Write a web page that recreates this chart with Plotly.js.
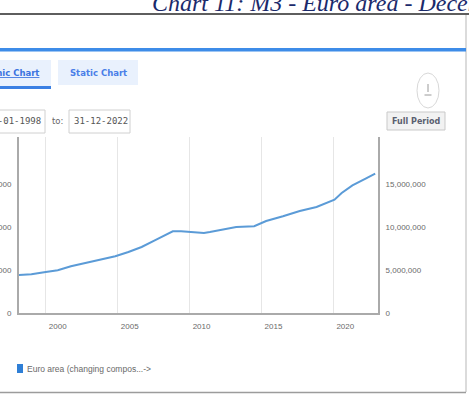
<!DOCTYPE html>
<html><head><meta charset="utf-8">
<script src="https://cdn.plot.ly/plotly-3.0.1.min.js"></script>
<style>html,body{margin:0;padding:0;background:#fff;overflow:hidden}#chart{width:469px;height:394px}</style>
</head><body><div id="chart"></div>
<script>
// ---- data ----
const dates = ['1998-02-01','1999-01-01','2000-01-01','2000-11-01','2001-10-01','2002-10-01','2003-12-01',
  '2004-11-01','2005-10-01','2006-09-01','2007-08-01','2008-04-01','2008-11-01','2009-06-01','2010-05-01',
  '2011-01-01','2011-06-01','2012-05-01','2013-04-01','2014-07-01','2015-05-01','2016-07-01','2017-09-01',
  '2018-11-01','2019-07-01','2020-02-01','2020-08-01','2021-05-01','2022-04-01','2022-12-01'];
const m3Values = [4400000,4490000,4760000,4960000,5420000,5800000,6230000,
  6580000,7080000,7660000,8440000,9020000,9480000,9480000,9330000,
  9290000,9400000,9680000,9980000,10070000,10680000,11230000,11840000,
  12310000,12770000,13160000,13930000,14820000,15600000,16180000];
const yTickVals = [0, 5000000, 10000000, 15000000];
const xTickVals = ['2000-01-01','2005-01-01','2010-01-01','2015-01-01','2020-01-01'];
const xTickText = ['2000','2005','2010','2015','2020'];
const seriesName = 'Euro area (changing compos...->';
const titleText = 'Chart 11: M3 - Euro area - December 2022';
const tabLabels = ['Dynamic Chart', 'Static Chart'];
const dateFrom = '01-01-1998';
const dateTo = '31-12-2022';
const fullPeriodLabel = 'Full Period';

// ---- geometry helpers (page pixels -> paper coords) ----
const W = 469, H = 394, L = 19, R = 91, T = 137, B = 81;
const PW = W - L - R, PH = H - T - B;
const px = x => (x - L) / PW;
const py = y => (H - B - y) / PH;

function rect(x0, y0, x1, y1, fill, line, lw) {
  return {type:'rect', xref:'paper', yref:'paper', x0:px(x0), x1:px(x1), y0:py(y1), y1:py(y0),
    fillcolor: fill, line:{color: line || 'rgba(0,0,0,0)', width: lw || 0}, layer:'above'};
}
function seg(x0, y0, x1, y1, color, w) {
  return {type:'line', xref:'paper', yref:'paper', x0:px(x0), x1:px(x1), y0:py(y0), y1:py(y1),
    line:{color: color, width: w}, layer:'above'};
}
function label(text, x, y, anchor, size, color, family) {
  return {text: text, xref:'paper', yref:'paper', x: px(x), y: py(y), xanchor: anchor, yanchor:'middle',
    showarrow:false, font:{size: size, color: color, family: family || 'DejaVu Sans, sans-serif'}};
}

const shapes = [
  seg(0, 14, 469, 14, '#5e5e5e', 2),
  seg(466, 15, 466, 392, '#cfcfcf', 1.5),
  seg(0, 392.5, 466, 392.5, '#9c9c9c', 1.5),
  rect(0, 48, 466, 51.5, '#3d8ce8'),
  rect(-2, 60, 51, 87, '#e9f1fd'),
  rect(0, 86, 51, 89, '#3a7fe3'),
  rect(58, 60, 138, 85, '#e9f1fd'),
  rect(-5, 110, 45, 133, '#ffffff', '#d0d0d0', 1),
  rect(69, 110, 130, 133, '#ffffff', '#d0d0d0', 1),
  {type:'circle', xref:'paper', yref:'paper', x0:px(417), x1:px(439), y0:py(108), y1:py(73),
    fillcolor:'#ffffff', line:{color:'#d8d8d8', width:1}, layer:'above'},
  seg(428, 84, 428, 92, '#9a9a9a', 1),
  seg(424.5, 95, 431.5, 95, '#9a9a9a', 1),
  rect(387, 112, 445, 130, '#f2f2f2', '#c9c9c9', 1),
  rect(17, 364, 23, 373, '#2f7fd6')
];

const annotations = [
  label('<i>' + titleText + '</i>', 150, 2.5, 'left', 24, '#1b2a6b', 'Liberation Serif, serif'),
  label('<b><span style="text-decoration:underline">' + tabLabels[0] + '</span></b>', 41, 73, 'right', 8.5, '#3b74e0'),
  label('<b>' + tabLabels[1] + '</b>', 98, 73, 'center', 8.5, '#4a7ee8'),
  label(dateFrom, 43, 121.5, 'right', 9, '#555555', 'DejaVu Sans Mono, monospace'),
  label('to:', 50, 121.5, 'left', 8.5, '#666666'),
  label(dateTo, 72, 121.5, 'left', 9, '#555555', 'DejaVu Sans Mono, monospace'),
  label('<b>' + fullPeriodLabel + '</b>', 416, 121, 'center', 8, '#5a5f70'),
  label(seriesName, 25, 368.5, 'left', 8.5, '#6a6a6a', 'Liberation Sans, sans-serif')
];

const tickFont = {family:'Liberation Sans, sans-serif', size:8, color:'#6a6a6a'};

const trace = {
  x: dates, y: m3Values, type:'scatter', mode:'lines', name: seriesName,
  line:{color:'#5b9bd7', width:2}, hoverinfo:'skip'
};
// same series bound to the right-hand axis (invisible) so that axis is drawn
const traceRight = {
  x: dates, y: m3Values, type:'scatter', mode:'lines', yaxis:'y2', showlegend:false,
  line:{color:'rgba(0,0,0,0)', width:0}, hoverinfo:'skip'
};

const layout = {
  width: W, height: H, margin:{l:L, r:R, t:T, b:B, pad:0},
  paper_bgcolor:'#ffffff', plot_bgcolor:'#ffffff', showlegend:false,
  xaxis:{type:'date', range:['1998-02-20','2023-02-10'], tickmode:'array', tickvals:xTickVals, ticktext:xTickText,
    showgrid:true, gridcolor:'#e6e6e6', gridwidth:1, showline:true, linecolor:'#aaaaaa', linewidth:2,
    ticks:'', ticklabelshift:12, ticklabelstandoff:4, tickfont:tickFont, zeroline:false, automargin:false},
  yaxis:{range:[0, 20430000], tickmode:'array', tickvals:yTickVals, tickformat:',', showgrid:false,
    showline:true, linecolor:'#aaaaaa', linewidth:2, ticks:'', ticklabelstandoff:4, tickfont:tickFont,
    zeroline:false, automargin:false},
  yaxis2:{range:[0, 20430000], overlaying:'y', side:'right', anchor:'x', tickmode:'array', tickvals:yTickVals,
    tickformat:',', showgrid:false, showline:true, linecolor:'#aaaaaa', linewidth:2, ticks:'',
    ticklabelstandoff:4, tickfont:tickFont, zeroline:false, automargin:false},
  shapes: shapes, annotations: annotations
};

Plotly.newPlot('chart', [trace, traceRight], layout, {displayModeBar:false, staticPlot:true});
</script>
</body></html>
